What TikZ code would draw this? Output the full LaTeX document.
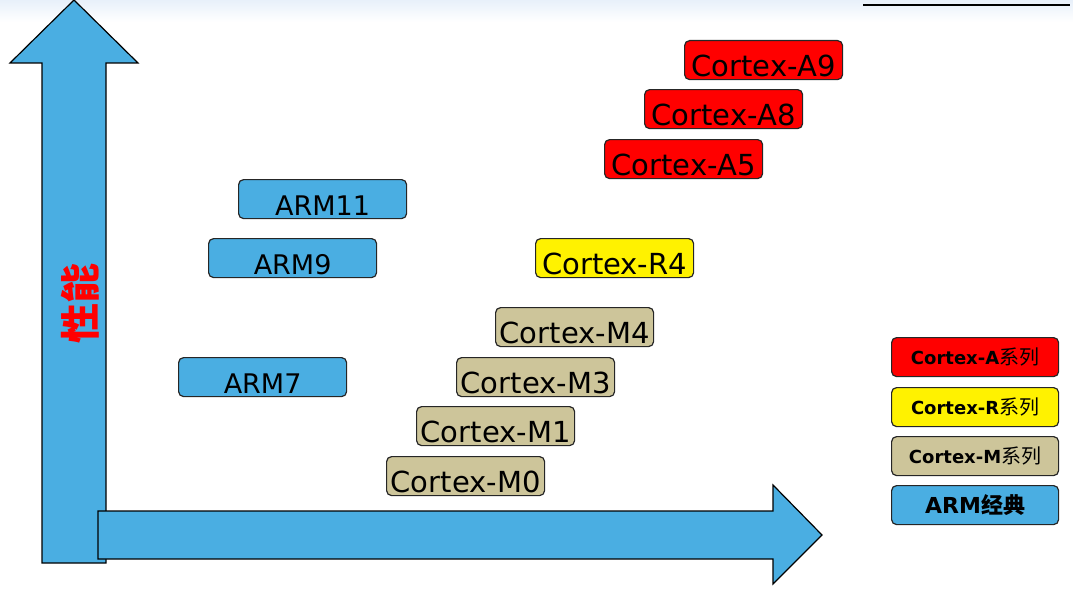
\documentclass[tikz,border=0pt]{standalone}
\usepackage{fontspec}
\setmainfont{DejaVu Sans}
\newfontfamily\cjk{Noto Sans CJK SC}
\usetikzlibrary{positioning}

\definecolor{armblue}{RGB}{74,174,226}
\definecolor{mtan}{RGB}{205,197,154}
\definecolor{topband}{RGB}{232,240,250}

\tikzset{
  core/.style={draw=black!85, line width=1.2pt, rounded corners=5pt, anchor=north west,
    inner xsep=0pt, inner ysep=0pt, minimum width=158pt, text height=36pt, text depth=3pt,
    font=\fontsize{29}{32}\selectfont},
  abox/.style={core, fill=red},
  rbox/.style={core, fill=yellow},
  mbox/.style={core, fill=mtan},
  armbox/.style={core, fill=armblue, minimum width=168pt, font=\fontsize{27}{30}\selectfont},
  legbox/.style={draw=black!85, line width=1.2pt, rounded corners=5pt, anchor=north west,
    minimum width=167pt, minimum height=39pt, inner sep=0pt,
    font=\bfseries\fontsize{18}{20}\selectfont},
  bigarrow/.style={draw=black, line width=1.2pt, fill=armblue, line join=miter}
}

\begin{document}
\begin{tikzpicture}[x=1pt, y=-1pt]
  \useasboundingbox (0,0) rectangle (1073,594);

  %%%%% frame %%%%%
  \shade[top color=topband, bottom color=white] (0,0) rectangle (1073,22);
  \draw[line width=1.5pt] (863,5) -- (1070,5);

  %%%%% axes %%%%%
  \draw[bigarrow] (42,563) -- (42,63) -- (10,63) -- (74,0) -- (138,63) -- (106,63) -- (106,563) -- cycle;
  \draw[bigarrow] (98,511) -- (773,511) -- (773,485) -- (822,535) -- (773,584) -- (773,559) -- (98,559) -- cycle;
  \node[rotate=90, text=red, font=\cjk\bfseries\fontsize{40}{42}\selectfont] (perf) at (80,303) {性能};

  %%%%% classic ARM %%%%%
  \node[armbox] (arm11) at (238,179) {ARM11};
  \node[armbox] (arm9) at (208,238) {ARM9};
  \node[armbox] (arm7) at (178,357) {ARM7};

  %%%%% Cortex-M %%%%%
  \node[mbox] (m4) at (495,307) {Cortex-M4};
  \node[mbox] (m3) at (456,357) {Cortex-M3};
  \node[mbox] (m1) at (416,406) {Cortex-M1};
  \node[mbox] (m0) at (386,456) {Cortex-M0};

  %%%%% Cortex-R / Cortex-A %%%%%
  \node[rbox] (r4) at (535,238) {Cortex-R4};
  \node[abox] (a5) at (604,139) {Cortex-A5};
  \node[abox] (a8) at (644,89) {Cortex-A8};
  \node[abox] (a9) at (684,40) {Cortex-A9};

  %%%%% legend %%%%%
  \node[legbox, fill=red] (legA) at (891,337) {Cortex-A{\cjk\mdseries\fontsize{20}{22}\selectfont 系列}};
  \node[legbox, fill=yellow] (legR) at (891,387) {Cortex-R{\cjk\mdseries\fontsize{20}{22}\selectfont 系列}};
  \node[legbox, fill=mtan] (legM) at (891,436) {Cortex-M{\cjk\mdseries\fontsize{20}{22}\selectfont 系列}};
  \node[legbox, fill=armblue, font=\bfseries\fontsize{22}{24}\selectfont] (legArm) at (891,485) {ARM{\cjk 经典}};
\end{tikzpicture}
\end{document}
